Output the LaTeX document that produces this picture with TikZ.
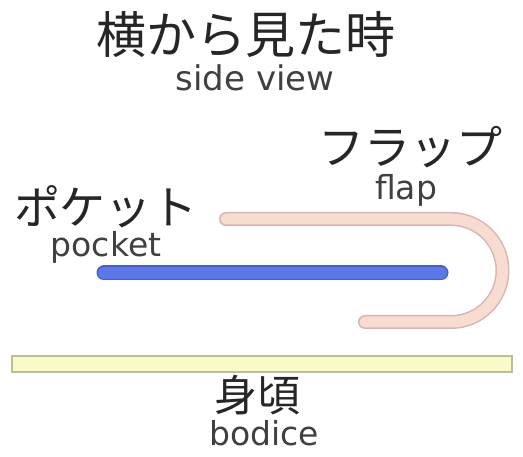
\documentclass[tikz,border=0pt]{standalone}
\usepackage{fontspec}
\setmainfont{Noto Sans CJK JP}
\newfontfamily\latinfont{DejaVu Sans}
\begin{document}
\begin{tikzpicture}[x=1pt,y=-1pt,
  lbl/.style={inner sep=0pt,anchor=center,text=black!85},
  jp/.style={lbl,font=\fontsize{46}{46}\selectfont},
  en/.style={inner sep=0pt,anchor=base,font=\latinfont\fontsize{33}{33}\selectfont,text=black!75},
  partline/.style={line cap=round,line join=round}]
\useasboundingbox (0,0) rectangle (523,457);
\fill[white] (0,0) rectangle (523,457);
\node[lbl,font=\fontsize{50}{50}\selectfont] (title) at (246,35) {横から見た時};
\node[en,font=\latinfont\fontsize{34}{34}\selectfont] (sv) at (255,91) {side view};
\node[jp] (flapjp) at (410,147) {フラップ};
\node[en] (flapen) at (406,200) {flap};
\node[jp] (pocketjp) at (106,207) {ポケット};
\node[en] (pocketen) at (106,257) {pocket};
\node[jp,font=\fontsize{43}{43}\selectfont] (bodicejp) at (257,395) {身頃};
\node[en] (bodiceen) at (264,446) {bodice};
% flap
\draw[partline,line width=14pt,color=black!22!pink!70!white] (226,219) -- (451,219) arc[start angle=-90,end angle=90,radius=51.5] -- (365,322);
\draw[partline,line width=11pt,color={rgb,255:red,248;green,220;blue,208}] (226,219) -- (451,219) arc[start angle=-90,end angle=90,radius=51.5] -- (365,322);
% pocket
\draw[partline,line width=15pt,color={rgb,255:red,70;green,95;blue,200}] (104,273) -- (441,273);
\draw[partline,line width=12pt,color={rgb,255:red,92;green,120;blue,232}] (104,273) -- (441,273);
% bodice
\draw[draw={rgb,255:red,190;green,190;blue,150},fill={rgb,255:red,250;green,250;blue,200},line width=1.5pt] (12,356) rectangle (512,372);
\end{tikzpicture}
\end{document}
